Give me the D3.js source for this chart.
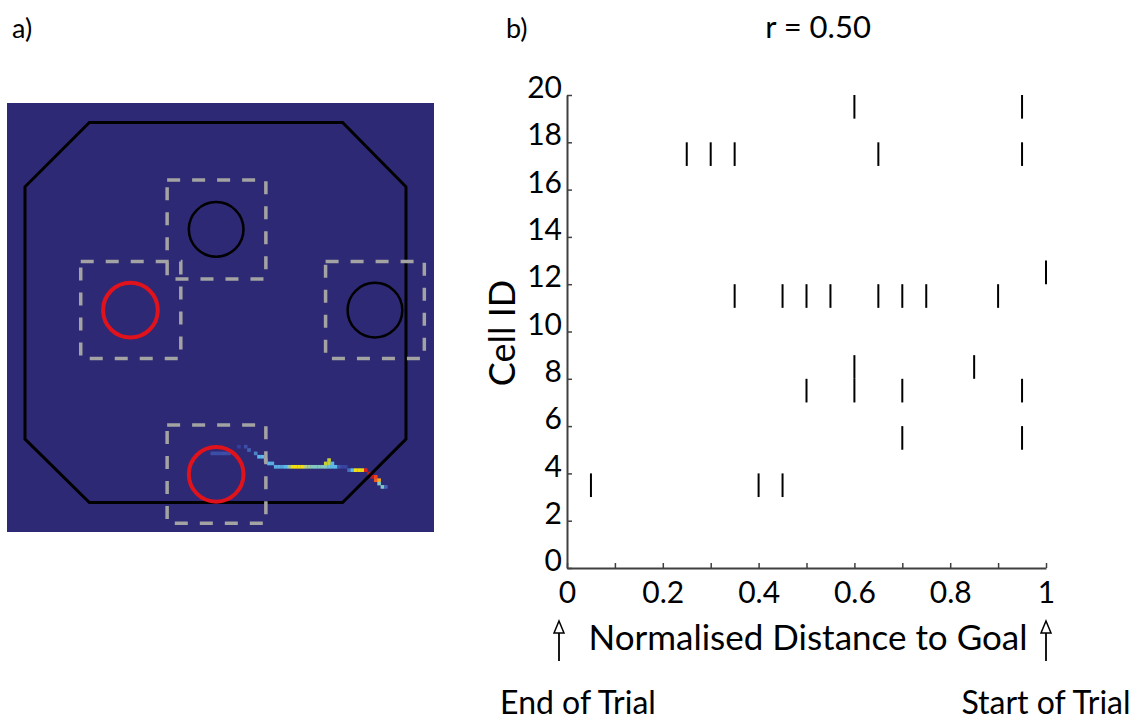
<!DOCTYPE html>
<html>
<head>
<meta charset="utf-8">
<script src="https://cdn.jsdelivr.net/npm/d3@7"></script>
<style>
	body { margin: 0; background: #fff; }
	text { font-family: Lato, "Open Sans", sans-serif; fill: #000; }
</style>
</head>
<body>
<svg id="chart" width="1137" height="720"></svg>
<script>
// ---- panel b data: spike positions per cell (normalised distance to goal) ----
var cellIds = [20, 18, 13, 12, 9, 8, 6, 4];
var spikeDist = [
	[0.6, 0.95],
	[0.25, 0.3, 0.35, 0.65, 0.95],
	[1.0],
	[0.35, 0.45, 0.5, 0.55, 0.65, 0.7, 0.75, 0.9],
	[0.6, 0.85],
	[0.5, 0.6, 0.7, 0.95],
	[0.7, 0.95],
	[0.05, 0.4, 0.45]
];
var xTickValues = [0, 0.1, 0.2, 0.3, 0.4, 0.5, 0.6, 0.7, 0.8, 0.9, 1];
var xTickLabels = ['0', '', '0.2', '', '0.4', '', '0.6', '', '0.8', '', '1'];
var yTickValues = [0, 2, 4, 6, 8, 10, 12, 14, 16, 18, 20];
var corrR = 0.50;

// ---- panel a data: arena geometry in heat-map grid units (128 x 128) ----
var arenaOutline = [[24.7, 5.8], [100.6, 5.8], [119.6, 25], [119.6, 100.3],
	[100.6, 119.2], [24.7, 119.2], [5.4, 100.3], [5.4, 25]];
var zoneBoxes = [[48, 23, 77.6, 52.5], [22.1, 47.3, 52.1, 76.2],
	[95.5, 47.3, 125.1, 76.2], [48, 96.1, 77.6, 125.4]];
var goalCentres = [[62.7, 37.7], [37, 61.8], [110.3, 61.8], [62.7, 110.8]];
var goalRewarded = [false, true, false, true];
var goalRadius = 8.2;
// trajectory heat-map cells: [column, row, value]
var pathCells = [
	[61, 104, 0.2], [62, 104, 0.2], [63, 104, 0.2], [64, 104, 0.2], [65, 104, 0.2], [66, 104, 0.2],
	[69, 102, 0.12], [71, 102, 0.2], [72, 103, 0.25], [74, 104, 0.32],
	[75, 105, 0.42], [76, 105, 0.42], [77, 106, 0.5], [78, 107, 0.42], [79, 107, 0.4],
	[80, 108, 0.4], [81, 108, 0.4], [82, 108, 0.38], [83, 108, 0.42], [84, 108, 0.55],
	[85, 108, 0.74], [86, 108, 0.75], [87, 108, 0.75], [88, 108, 0.74], [89, 108, 0.6],
	[90, 108, 0.55], [91, 108, 0.5], [92, 108, 0.5], [93, 108, 0.5], [94, 108, 0.5], [95, 108, 0.5],
	[95, 107, 0.66], [96, 107, 0.66], [96, 106, 0.66], [96, 108, 0.45],
	[97, 107, 0.42], [97, 108, 0.42], [98, 108, 0.42], [99, 108, 0.22], [100, 108, 0.15], [101, 108, 0.15],
	[102, 109, 0.28], [103, 109, 0.42], [104, 109, 0.75], [105, 109, 0.75], [106, 109, 0.72],
	[107, 109, 0.94], [108, 110, 0.98], [109, 111, 0.98], [110, 111, 0.9],
	[110, 112, 0.88], [111, 112, 0.82], [111, 113, 0.5], [112, 114, 0.5], [113, 114, 0.25]
];

var svg = d3.select('#chart');
var heatColor = d3.scaleLinear()
	.domain([0, 0.1, 0.2, 0.3, 0.42, 0.5, 0.6, 0.67, 0.75, 0.83, 0.9, 0.94, 1])
	.range(['#2d2974', '#343a9a', '#3c4ea8', '#4878c2', '#5cb8ea', '#82c8c2', '#b8d080',
		'#c8d020', '#f4e010', '#f4a020', '#f04020', '#e01c1c', '#a81c1c']);

// =========================================================================
// panel a: arena
var gx = d3.scaleLinear().domain([0, 128]).range([7, 434]);
var gy = d3.scaleLinear().domain([0, 128]).range([103, 532]);
var arena = svg.append('g').attr('class', 'arena');

arena.append('rect')
	.attr('x', gx(0)).attr('y', gy(0))
	.attr('width', gx(128) - gx(0)).attr('height', gy(128) - gy(0))
	.attr('fill', '#2d2974');

arena.selectAll('rect.cell')
	.data(pathCells)
	.enter()
	.append('rect')
	.attr('class', 'cell')
	.attr('x', function(d) { return gx(d[0]); })
	.attr('y', function(d) { return gy(d[1]); })
	.attr('width', gx(1) - gx(0) + 0.3)
	.attr('height', gy(1) - gy(0) + 0.3)
	.attr('fill', function(d) { return heatColor(d[2]); });

arena.append('path')
	.datum(arenaOutline)
	.attr('d', d3.line()
		.x(function(d) { return gx(d[0]); })
		.y(function(d) { return gy(d[1]); })
		.curve(d3.curveLinearClosed))
	.attr('fill', 'none')
	.attr('stroke', '#000')
	.attr('stroke-width', 3);

arena.selectAll('rect.zone')
	.data(zoneBoxes)
	.enter()
	.append('rect')
	.attr('class', 'zone')
	.attr('x', function(d) { return gx(d[0]); })
	.attr('y', function(d) { return gy(d[1]); })
	.attr('width', function(d) { return gx(d[2]) - gx(d[0]); })
	.attr('height', function(d) { return gy(d[3]) - gy(d[1]); })
	.attr('fill', 'none')
	.attr('stroke', '#a3a3a3')
	.attr('stroke-width', 3.5)
	.attr('stroke-dasharray', '13,12');

arena.selectAll('circle.goal')
	.data(goalCentres)
	.enter()
	.append('circle')
	.attr('class', 'goal')
	.attr('cx', function(d) { return gx(d[0]); })
	.attr('cy', function(d) { return gy(d[1]); })
	.attr('r', gx(goalRadius) - gx(0))
	.attr('fill', 'none')
	.attr('stroke', function(d, i) { return goalRewarded[i] ? '#e0121b' : '#000'; })
	.attr('stroke-width', function(d, i) { return goalRewarded[i] ? 4 : 2.5; });

svg.append('text').attr('x', 12).attr('y', 38).style('font-size', '27px').text('a)');

// =========================================================================
// panel b: raster
var x = d3.scaleLinear().domain([0, 1]).range([567, 1046]);
var y = d3.scaleLinear().domain([0, 20]).range([568, 95]);
var plot = svg.append('g').attr('class', 'raster');

var spikes = [];
cellIds.forEach(function(c, i) {
	spikeDist[i].forEach(function(v) { spikes.push({cell: c, dist: v}); });
});

plot.selectAll('line.spike')
	.data(spikes)
	.enter()
	.append('line')
	.attr('class', 'spike')
	.attr('x1', function(d) { return x(d.dist); })
	.attr('x2', function(d) { return x(d.dist); })
	.attr('y1', function(d) { return y(d.cell - 1); })
	.attr('y2', function(d) { return y(d.cell); })
	.attr('stroke', '#000')
	.attr('stroke-width', 2);

var xAxis = plot.append('g')
	.attr('transform', 'translate(0,' + y(0) + ')')
	.call(d3.axisBottom(x)
		.tickValues(xTickValues)
		.tickFormat(function(d, i) { return xTickLabels[i]; })
		.tickSize(-5).tickSizeOuter(0).tickPadding(14));

var yAxis = plot.append('g')
	.attr('transform', 'translate(' + x(0) + ',0)')
	.call(d3.axisLeft(y)
		.tickValues(yTickValues)
		.tickSize(-5).tickSizeOuter(0).tickPadding(5));
yAxis.selectAll('.tick text').attr('y', -7);

[xAxis, yAxis].forEach(function(ax) {
	ax.select('.domain').attr('stroke', '#404040').attr('stroke-width', 2);
	ax.selectAll('.tick line').attr('stroke', '#404040').attr('stroke-width', 1.5);
	ax.selectAll('.tick text')
		.attr('fill', '#000')
		.style('font-family', 'Lato, "Open Sans", sans-serif')
		.style('font-size', '30px');
});

svg.append('text')
	.attr('transform', 'translate(515,333) rotate(-90)')
	.attr('text-anchor', 'middle')
	.style('font-size', '36px')
	.text('Cell ID');

svg.append('text')
	.attr('x', 818).attr('y', 38)
	.attr('text-anchor', 'middle')
	.style('font-size', '31px')
	.text('r = ' + corrR.toFixed(2));

svg.append('text').attr('x', 506).attr('y', 38).style('font-size', '27px').text('b)');

svg.append('text')
	.attr('x', 808).attr('y', 650)
	.attr('text-anchor', 'middle')
	.style('font-size', '35px')
	.text('Normalised Distance to Goal');

// arrows marking trial start/end
var arrowEnds = [{at: 0, shift: -8, label: 'End of Trial', lx: 578},
	{at: 1, shift: 0, label: 'Start of Trial', lx: 1046}];
var arrows = svg.selectAll('g.arrow')
	.data(arrowEnds)
	.enter()
	.append('g')
	.attr('class', 'arrow')
	.attr('transform', function(d) { return 'translate(' + (x(d.at) + d.shift) + ',0)'; });

arrows.append('line')
	.attr('y1', 633).attr('y2', 661)
	.attr('stroke', '#000').attr('stroke-width', 1.8);
arrows.append('path')
	.attr('d', 'M0,621L5,633L-5,633Z')
	.attr('fill', '#fff').attr('stroke', '#000').attr('stroke-width', 1.5);

svg.selectAll('text.trial')
	.data(arrowEnds)
	.enter()
	.append('text')
	.attr('class', 'trial')
	.attr('x', function(d) { return d.lx; })
	.attr('y', 714)
	.attr('text-anchor', 'middle')
	.style('font-size', '32px')
	.text(function(d) { return d.label; });
</script>
</body>
</html>
